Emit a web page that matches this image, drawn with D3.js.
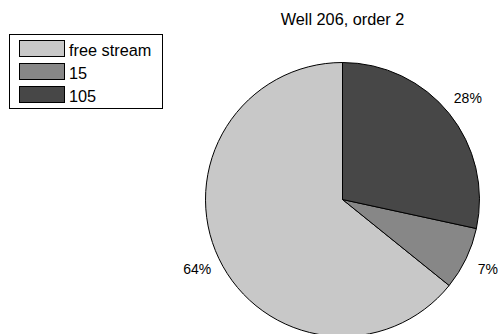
<!DOCTYPE html>
<html>
<head>
<meta charset="utf-8">
<script src="https://cdn.jsdelivr.net/npm/d3@7/dist/d3.min.js"></script>
<style>
  html, body { margin: 0; padding: 0; background: #fff; }
  svg { display: block; font-family: "Liberation Sans", Arial, sans-serif; }
</style>
</head>
<body>
<svg id="chart" width="500" height="334"></svg>
<script>
const title = "Well 206, order 2";
const categories = ["free stream", "15", "105"];
const values = [64.2, 7.4, 28.4];
const labels = ["64%", "7%", "28%"];
const colors = ["#c8c8c8", "#878787", "#474747"];

const svg = d3.select("#chart");
const cx = 342.5, cy = 199.5, r = 137, labelR = 161;

svg.append("text")
  .attr("x", cx).attr("y", 24.5)
  .attr("text-anchor", "middle")
  .attr("font-size", 16.3)
  .attr("fill", "#000")
  .text(title);

const data = categories.map((c, i) => ({ name: c, value: values[i], label: labels[i], color: colors[i] }));
// drawn clockwise from 12 o'clock: 105, 15, free stream
const order = ["105", "15", "free stream"];
const pie = d3.pie()
  .value(d => d.value)
  .sort((a, b) => order.indexOf(a.name) - order.indexOf(b.name));
const arcs = pie(data);
const arc = d3.arc().innerRadius(0).outerRadius(r);
const labelArc = d3.arc().innerRadius(labelR).outerRadius(labelR);

const g = svg.append("g").attr("transform", `translate(${cx},${cy})`);
g.selectAll("path.slice").data(arcs).join("path")
  .attr("class", "slice")
  .attr("d", arc)
  .attr("fill", d => d.data.color)
  .attr("stroke", "#000")
  .attr("stroke-width", 1)
  .attr("stroke-linejoin", "round");

g.selectAll("text.lbl").data(arcs).join("text")
  .attr("class", "lbl")
  .attr("transform", d => `translate(${labelArc.centroid(d)})`)
  .attr("text-anchor", "middle")
  .attr("dy", "0.35em")
  .attr("font-size", 14)
  .attr("fill", "#000")
  .text(d => d.data.label);

// legend
const lg = svg.append("g");
lg.append("rect")
  .attr("x", 9.5).attr("y", 34.5).attr("width", 153).attr("height", 74)
  .attr("fill", "#fff").attr("stroke", "#000").attr("stroke-width", 1);
const rowY = d3.scalePoint().domain(categories).range([40.5, 86.5]);
const items = lg.selectAll("g.item").data(data).join("g").attr("class", "item");
items.append("rect")
  .attr("x", 19.5).attr("y", d => rowY(d.name))
  .attr("width", 45).attr("height", 16)
  .attr("fill", d => d.color).attr("stroke", "#000").attr("stroke-width", 1);
items.append("text")
  .attr("x", 69).attr("y", d => rowY(d.name) + 15.5)
  .attr("font-size", 16.3)
  .attr("fill", "#000")
  .text(d => d.name);
</script>
</body>
</html>
